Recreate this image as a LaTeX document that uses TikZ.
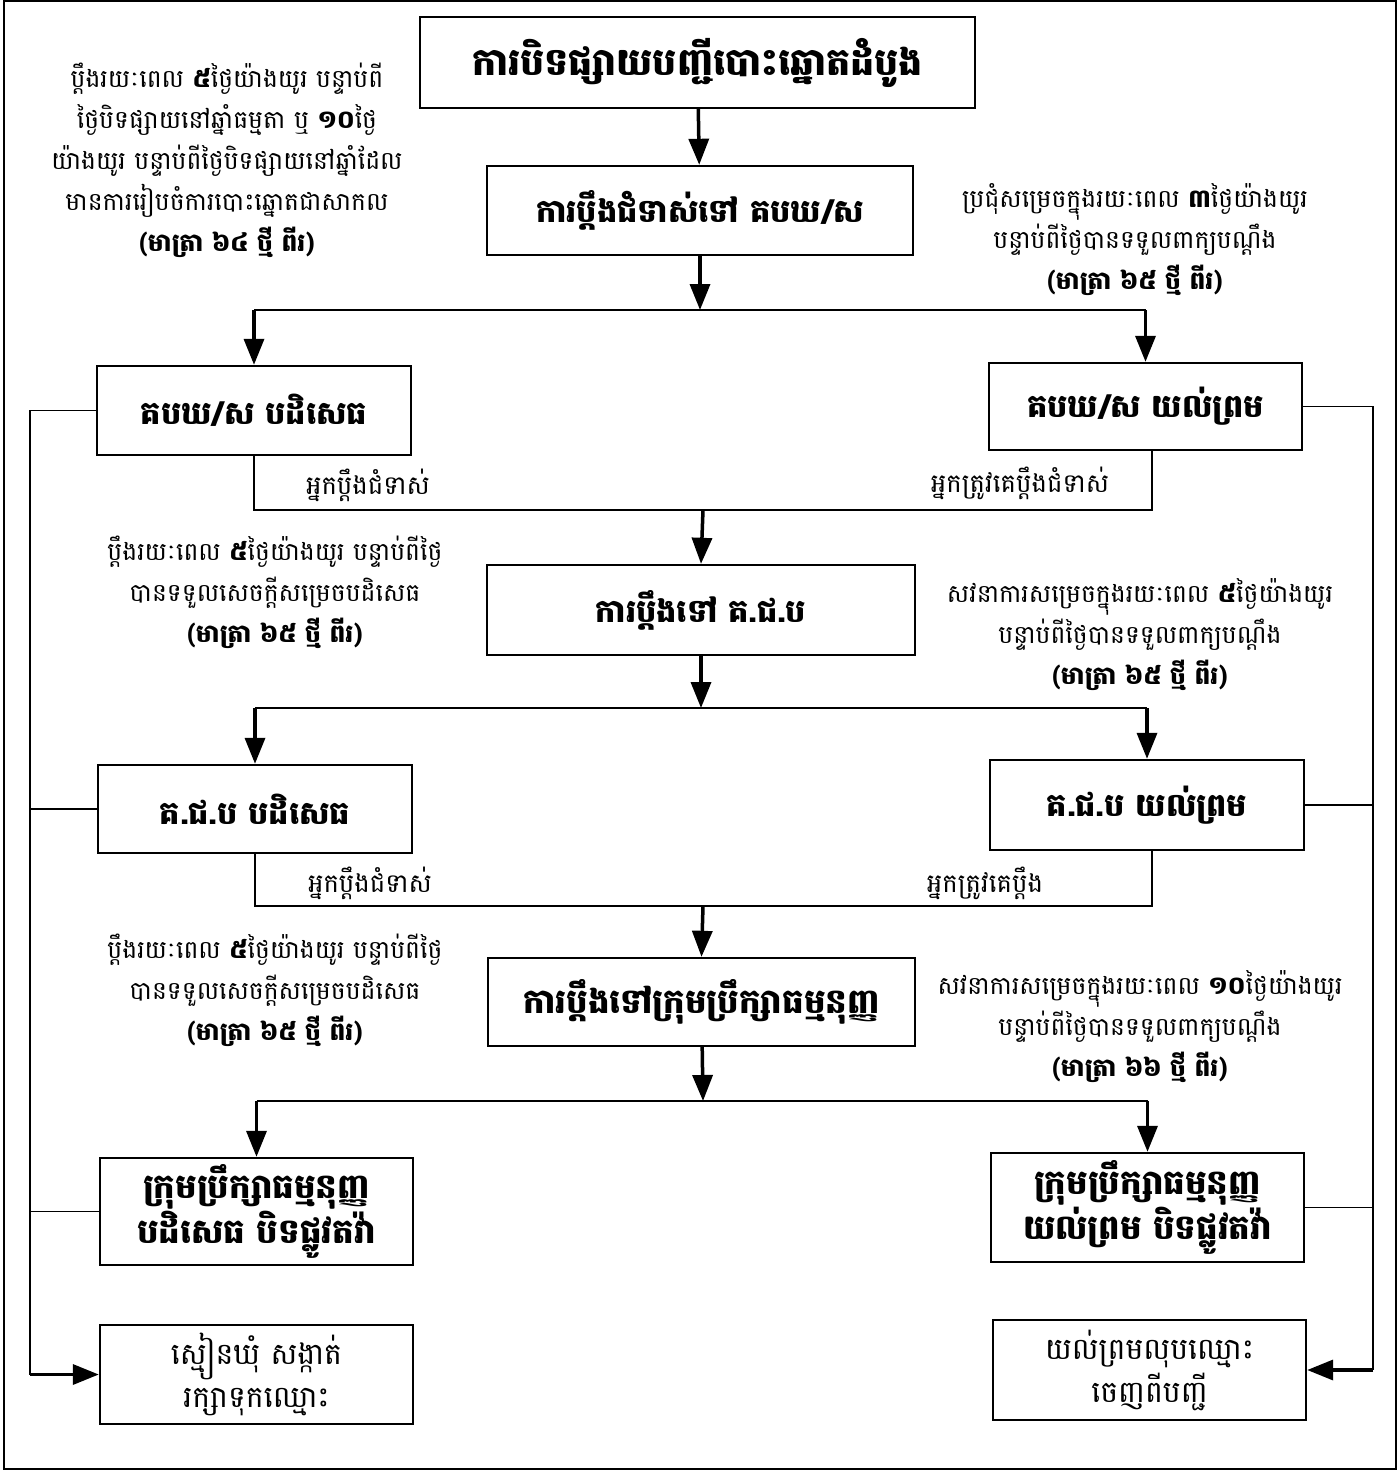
\documentclass[tikz,border=0pt]{standalone}
\usepackage{fontspec}
\newfontfamily\kh[Script=Khmer]{Battambang}
\usetikzlibrary{arrows.meta}
\begin{document}
\begin{tikzpicture}[x=1pt,y=-1pt,
  box/.style={draw, line width=2.4pt, inner sep=0pt, align=center, font=\kh\bfseries\fontsize{32}{40}\selectfont},
  twoline/.style={font=\kh\bfseries\fontsize{34}{36}\selectfont},
  finalbox/.style={font=\kh\fontsize{30}{43}\selectfont},
  note/.style={align=center, inner sep=0pt, font=\kh\fontsize{25}{41}\selectfont},
  lab/.style={inner sep=0pt, font=\kh\fontsize{26}{30}\selectfont},
  mainarrow/.style={line width=3.5pt, -{Triangle[width=20pt,length=26pt]}},
  joinline/.style={line width=2pt},
  rail/.style={line width=1.5pt},
]
\useasboundingbox (0,0) rectangle (1399,1472);
\draw[line width=2pt] (4,1) rectangle (1396,1469);

% boxes
\node[box, minimum width=555pt, minimum height=91pt, font=\kh\bfseries\fontsize{38}{44}\selectfont] (B1) at (697.5,62.5) {ការបិទផ្សាយបញ្ជីបោះឆ្នោតដំបូង};
\node[box, minimum width=426pt, minimum height=89pt] (B2) at (700,210.5) {ការប្ដឹងជំទាស់ទៅ គបឃ/ស};
\node[box, minimum width=314pt, minimum height=89pt] (L1) at (254,410.5) {គបឃ/ស បដិសេធ};
\node[box, minimum width=313pt, minimum height=87pt] (R1) at (1145.5,406.5) {គបឃ/ស យល់ព្រម};
\node[box, minimum width=428pt, minimum height=90pt] (B3) at (701,610) {ការប្ដឹងទៅ គ.ជ.ប};
\node[box, minimum width=314pt, minimum height=88pt] (L2) at (255,809) {គ.ជ.ប បដិសេធ};
\node[box, minimum width=314pt, minimum height=90pt] (R2) at (1147,805) {គ.ជ.ប យល់ព្រម};
\node[box, minimum width=427pt, minimum height=88pt, font=\kh\bfseries\fontsize{34}{40}\selectfont] (B4) at (701.5,1002) {ការប្ដឹងទៅក្រុមប្រឹក្សាធម្មនុញ្ញ};
\node[box, twoline, minimum width=313pt, minimum height=107pt] (L3) at (256.5,1211.5) {ក្រុមប្រឹក្សាធម្មនុញ្ញ\\បដិសេធ បិទផ្លូវតវ៉ា};
\node[box, twoline, minimum width=313pt, minimum height=109pt] (R3) at (1147.5,1207.5) {ក្រុមប្រឹក្សាធម្មនុញ្ញ\\យល់ព្រម បិទផ្លូវតវ៉ា};
\node[box, finalbox, minimum width=313pt, minimum height=99pt] (LF) at (256.5,1374.5) {ស្មៀនឃុំ សង្កាត់\\រក្សាទុកឈ្មោះ};
\node[box, finalbox, minimum width=313pt, minimum height=100pt] (RF) at (1149.5,1370) {យល់ព្រមលុបឈ្មោះ\\ចេញពីបញ្ជី};

% notes
\node[note] (N1) at (227,160) {ប្ដឹងរយៈពេល \textbf{៥}ថ្ងៃយ៉ាងយូរ បន្ទាប់ពី\\ថ្ងៃបិទផ្សាយនៅឆ្នាំធម្មតា ឬ \textbf{១០}ថ្ងៃ\\យ៉ាងយូរ បន្ទាប់ពីថ្ងៃបិទផ្សាយនៅឆ្នាំដែល\\មានការរៀបចំការបោះឆ្នោតជាសាកល\\\textbf{(មាត្រា ៦៤ ថ្មី ពីរ)}};
\node[note] (N2) at (1135,240) {ប្រជុំសម្រេចក្នុងរយៈពេល \textbf{៣}ថ្ងៃយ៉ាងយូរ\\បន្ទាប់ពីថ្ងៃបានទទួលពាក្យបណ្ដឹង\\\textbf{(មាត្រា ៦៥ ថ្មី ពីរ)}};
\node[note] (N3) at (275,592) {ប្ដឹងរយៈពេល \textbf{៥}ថ្ងៃយ៉ាងយូរ បន្ទាប់ពីថ្ងៃ\\បានទទួលសេចក្ដីសម្រេចបដិសេធ\\\textbf{(មាត្រា ៦៥ ថ្មី ពីរ)}};
\node[note] (N4) at (1140,635) {សវនាការសម្រេចក្នុងរយៈពេល \textbf{៥}ថ្ងៃយ៉ាងយូរ\\បន្ទាប់ពីថ្ងៃបានទទួលពាក្យបណ្ដឹង\\\textbf{(មាត្រា ៦៥ ថ្មី ពីរ)}};
\node[note] (N5) at (275,990) {ប្ដឹងរយៈពេល \textbf{៥}ថ្ងៃយ៉ាងយូរ បន្ទាប់ពីថ្ងៃ\\បានទទួលសេចក្ដីសម្រេចបដិសេធ\\\textbf{(មាត្រា ៦៥ ថ្មី ពីរ)}};
\node[note] (N6) at (1140,1027) {សវនាការសម្រេចក្នុងរយៈពេល \textbf{១០}ថ្ងៃយ៉ាងយូរ\\បន្ទាប់ពីថ្ងៃបានទទួលពាក្យបណ្ដឹង\\\textbf{(មាត្រា ៦៦ ថ្មី ពីរ)}};

% connector labels
\node[lab] (T1) at (368,485) {អ្នកប្ដឹងជំទាស់};
\node[lab] (T2) at (1020,483) {អ្នកត្រូវគេប្ដឹងជំទាស់};
\node[lab] (T3) at (370,883) {អ្នកប្ដឹងជំទាស់};
\node[lab] (T4) at (985,883) {អ្នកត្រូវគេប្ដឹង};

% junctions and rails
\coordinate (j0) at (700,310);
\coordinate (j1) at (703,510);
\coordinate (j2) at (701,708);
\coordinate (j3) at (703,906);
\coordinate (j4) at (703,1101);
\coordinate (lrail) at (30,0);
\coordinate (rrail) at (1373,0);

% main flow
\draw[mainarrow] (B1) -- (B2);
\draw[mainarrow] (B2) -- (j0);
\draw[joinline] (L1.north |- j0) -- (R1.north |- j0);
\draw[mainarrow] (L1.north |- j0) -- (L1.north);
\draw[mainarrow] (R1.north |- j0) -- (R1.north);
\draw[joinline] (L1.south) |- (j1) -| ([xshift=6pt]R1.south);
\draw[mainarrow] (j1) -- (B3.north);

\draw[mainarrow] (B3) -- (j2);
\draw[joinline] (L2.north |- j2) -- (R2.north |- j2);
\draw[mainarrow] (L2.north |- j2) -- (L2.north);
\draw[mainarrow] (R2.north |- j2) -- (R2.north);
\draw[joinline] (L2.south) |- (j3) -| ([xshift=5pt]R2.south);
\draw[mainarrow] (j3) -- (B4.north);

\draw[mainarrow] (B4) -- (j4);
\draw[joinline] (L3.north |- j4) -- (R3.north |- j4);
\draw[mainarrow] (L3.north |- j4) -- (L3.north);
\draw[mainarrow] (R3.north |- j4) -- (R3.north);

% left rail
\draw[rail] (L1.west) -- (L1.west -| lrail) -- (LF.west -| lrail);
\draw[rail] (L2.west) -- (L2.west -| lrail);
\draw[rail] (L3.west) -- (L3.west -| lrail);
\draw[mainarrow] (LF.west -| lrail) -- (LF.west);

% right rail
\draw[rail] (R1.east) -- (R1.east -| rrail) -- (RF.east -| rrail);
\draw[rail] (R2.east) -- (R2.east -| rrail);
\draw[rail] (R3.east) -- (R3.east -| rrail);
\draw[mainarrow] (RF.east -| rrail) -- (RF.east);
\end{tikzpicture}
\end{document}
